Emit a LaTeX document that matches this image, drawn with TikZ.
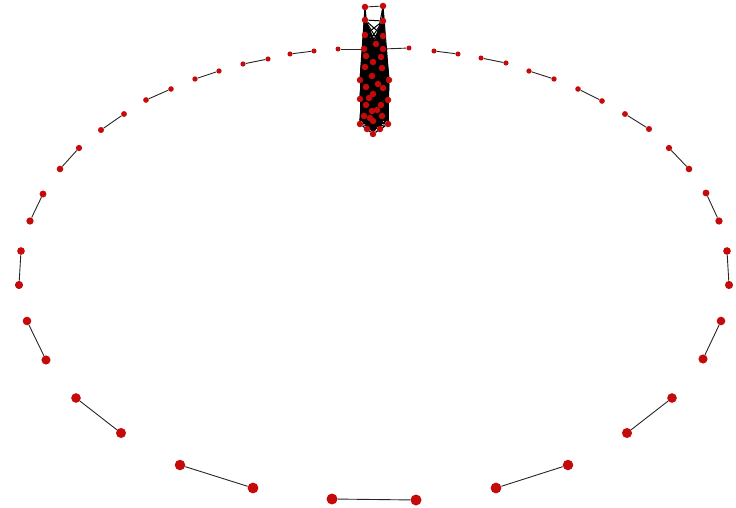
\documentclass[tikz,border=0pt]{standalone}
\usetikzlibrary{backgrounds}
\definecolor{nodered}{RGB}{196,10,10}

\begin{document}
\begin{tikzpicture}[
  x=1pt, y=-1pt,
  dot/.style={circle, fill=nodered, inner sep=0pt},
  core/.style={dot, minimum size=6.5pt},
  edge/.style={line width=0.9pt, black!85},
  coreedge/.style={line width=1pt, black},
]
  \useasboundingbox (0,0) rectangle (736,508);

  % dyads around the ring (size grows towards the bottom)
  \foreach \n/\xa/\ya/\xb/\yb in {
      1/290/54/314/51, 2/243/64/268/59, 3/195/79/219/71, 4/146/100/171/89,
      5/101/130/124/114, 6/60/169/79/148, 7/30/221/43/194, 8/21/251/19/285,
      9/27/321/46/360, 10/76/398/121/433, 11/180/465/253/488, 12/332/499/416/500,
      13/496/488/568/465, 14/627/433/672/398, 15/703/359/721/321, 16/729/285/727/251,
      17/719/221/706/193, 18/689/169/669/148, 19/649/129/625/114, 20/602/101/578/89,
      21/554/79/529/71, 22/506/63/481/58, 23/458/54/434/51} {
    \node[dot, minimum size={5+6*(\ya-50)/450}] (u\n) at (\xa,\ya) {};
    \node[dot, minimum size={5+6*(\yb-50)/450}] (v\n) at (\xb,\yb) {};
  }

  % dense core at the top
  \node[core] (t1) at (365,7) {};
  \node[core] (t2) at (383,6) {};
  \foreach \n/\x/\y in {
      1/365/35, 2/383/36, 3/364/49, 4/383/49, 5/366/56, 6/381/57, 7/373/62,
      8/365/67, 9/382/68, 10/360/80, 11/389/80, 12/366/87, 13/383/88, 14/373/94,
      15/360/99, 16/388/100, 17/366/105, 18/381/105, 19/372/111, 20/364/116,
      21/382/116, 22/373/121, 23/360/124, 24/388/124, 25/367/129, 26/380/129,
      27/373/134, 28/365/20, 29/383/21, 30/372/76, 31/376/44, 32/369/98,
      33/378/84, 34/370/118, 35/377/110}
    \node[core] (b\n) at (\x,\y) {};

  % pendants hanging off the core
  \node[dot, minimum size=5pt] (p1) at (338,49) {};
  \node[dot, minimum size=5pt] (p2) at (409,48) {};

  \begin{scope}[on background layer]
    \foreach \n in {1,...,23} \draw[edge] (u\n) -- (v\n);
    \draw[edge] (p1) -- (b3);
    \draw[edge] (p2) -- (b4);
    \draw[edge] (t1) -- (t2);
    \foreach \j in {1,3,5,8,10,12,15,17,20,23,25,28,30,32,34}
      \draw[coreedge] (t1) -- (b\j);
    \foreach \j in {2,4,6,9,11,13,16,18,21,24,26,29,31,33,35}
      \draw[coreedge] (t2) -- (b\j);
    \foreach \i in {1,...,34} {
      \pgfmathtruncatemacro\k{\i+1}
      \foreach \j in {\k,...,35} \draw[coreedge] (b\i) -- (b\j);
    }
  \end{scope}
\end{tikzpicture}
\end{document}
